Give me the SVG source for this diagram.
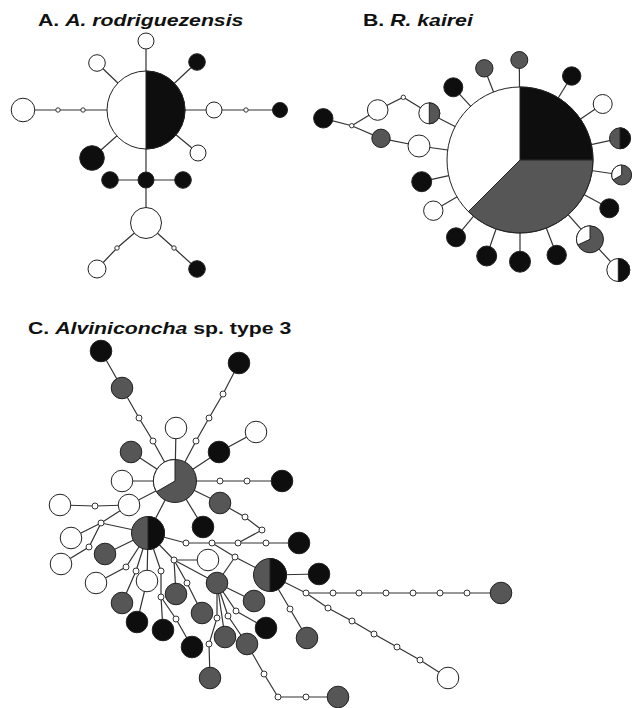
<svg xmlns="http://www.w3.org/2000/svg" width="632" height="708" viewBox="0 0 632 708">
<style>
.t{font-family:"Liberation Sans",Arial,sans-serif;font-size:17px;font-weight:bold;fill:#111}
.ln{stroke:#333;stroke-width:1.2;fill:none}
.w{fill:#fff;stroke:#222;stroke-width:1}
.b{fill:#0e0e0e;stroke:#222;stroke-width:1}
.g{fill:#565656;stroke:#222;stroke-width:1}
.s{fill:#fff;stroke:#333;stroke-width:1}
</style>
<rect width="632" height="708" fill="#fff"/>
<g id="titles">
<text class="t" transform="translate(38,26) scale(1.25,1)">A. <tspan font-style="italic">A. rodriguezensis</tspan></text>
<text class="t" transform="translate(363,26) scale(1.25,1)">B. <tspan font-style="italic">R. kairei</tspan></text>
<text class="t" transform="translate(28,334) scale(1.25,1)">C. <tspan font-style="italic">Alviniconcha</tspan> sp. type 3</text>
</g>
<g id="connectors">
<!-- A -->
<polyline class="ln" points="23,110 146,110 280,110"/>
<line class="ln" x1="146" y1="41" x2="146" y2="223"/>
<line class="ln" x1="97" y1="63" x2="146" y2="110"/>
<line class="ln" x1="197" y1="62" x2="146" y2="110"/>
<line class="ln" x1="92" y1="158" x2="146" y2="110"/>
<line class="ln" x1="198" y1="153" x2="146" y2="110"/>
<line class="ln" x1="110" y1="180" x2="183" y2="180"/>
<polyline class="ln" points="146,223 117,248 97,269"/>
<polyline class="ln" points="146,223 174,248 197,269"/>
<!-- B -->
<line class="ln" x1="519.3" y1="60" x2="520" y2="160"/>
<line class="ln" x1="484.3" y1="68.3" x2="520" y2="160"/>
<line class="ln" x1="453.3" y1="87.3" x2="520" y2="160"/>
<line class="ln" x1="571.7" y1="76" x2="520" y2="160"/>
<line class="ln" x1="602.7" y1="104" x2="520" y2="160"/>
<line class="ln" x1="620" y1="138.3" x2="520" y2="160"/>
<line class="ln" x1="621.7" y1="175" x2="520" y2="160"/>
<line class="ln" x1="609.3" y1="208.3" x2="520" y2="160"/>
<polyline class="ln" points="618.3,270 590,239.3 520,160"/>
<line class="ln" x1="556.7" y1="255" x2="520" y2="160"/>
<line class="ln" x1="520" y1="261.7" x2="520" y2="160"/>
<line class="ln" x1="486.7" y1="256" x2="520" y2="160"/>
<line class="ln" x1="456" y1="237.3" x2="520" y2="160"/>
<line class="ln" x1="433.3" y1="210.7" x2="520" y2="160"/>
<line class="ln" x1="421.7" y1="181.7" x2="520" y2="160"/>
<polyline class="ln" points="323.3,118.3 351.7,125.7 381,138.3 419,146 520,160"/>
<polyline class="ln" points="351.7,125.7 377.7,110 403.3,97.3 429.3,113.3 520,160"/>
<!-- C -->
<polyline class="ln" points="175,481 153,441 139,418 122,388 101,351"/>
<polyline class="ln" points="175,481 196,441 209,418 223,394 239,363"/>
<line class="ln" x1="175" y1="481" x2="176" y2="428"/>
<polyline class="ln" points="175,481 219,452 256,432"/>
<line class="ln" x1="175" y1="481" x2="131" y2="452"/>
<line class="ln" x1="175" y1="481" x2="122" y2="481"/>
<polyline class="ln" points="175,481 220,481 247,481 282,481"/>
<polyline class="ln" points="175,481 220,503 245,517 262,530 238,543"/>
<polyline class="ln" points="175,481 129,505 95,506 60,505"/>
<line class="ln" x1="175" y1="481" x2="148" y2="533"/>
<line class="ln" x1="175" y1="481" x2="203" y2="527"/>
<polyline class="ln" points="129,505 101,523 71,538"/>
<line class="ln" x1="148" y1="533" x2="101" y2="523"/>
<polyline class="ln" points="101,523 89,547 61,564"/>
<line class="ln" x1="148" y1="533" x2="105" y2="554"/>
<polyline class="ln" points="148,533 186,543 212,543 238,543 266,543 299,543"/>
<polyline class="ln" points="212,543 235,557 270,575"/>
<line class="ln" x1="235" y1="557" x2="217" y2="583"/>
<polyline class="ln" points="148,533 126,567 96,583"/>
<polyline class="ln" points="148,533 136,571 122,603"/>
<polyline class="ln" points="148,533 147,581 137,622"/>
<polyline class="ln" points="148,533 161,571 161,597 163,630"/>
<polyline class="ln" points="161,597 176,619 192,647"/>
<polyline class="ln" points="148,533 174,560 208,560"/>
<line class="ln" x1="174" y1="560" x2="176" y2="594"/>
<polyline class="ln" points="174,560 187,583 202,613"/>
<line class="ln" x1="174" y1="560" x2="217" y2="583"/>
<line class="ln" x1="217" y1="583" x2="254" y2="601"/>
<polyline class="ln" points="217,583 217,618 209,644 210,678"/>
<line class="ln" x1="217" y1="583" x2="225" y2="637"/>
<polyline class="ln" points="217,583 228,616 247,644 264,674 278,697 306,697 338,697"/>
<polyline class="ln" points="217,583 236,611 266,628"/>
<line class="ln" x1="270" y1="575" x2="319" y2="574"/>
<polyline class="ln" points="270,575 306,593 501,593"/>
<polyline class="ln" points="306,593 328,608 352,621 374,634 397,647 420,660 448,678"/>
<polyline class="ln" points="270,575 290,609 307,638"/>
</g>
<!-- A nodes -->
<g id="a-main"><circle class="w" cx="146" cy="110" r="39"/><path class="b" d="M146,71 A39,39 0 0 1 146,149 Z"/></g>
<g id="a-top"><circle class="w" cx="146" cy="41" r="8"/></g>
<g id="a-ul"><circle class="w" cx="97" cy="63" r="8.3"/></g>
<g id="a-ur"><circle class="b" cx="197" cy="62" r="8.3"/></g>
<g id="a-left"><circle class="w" cx="23" cy="110" r="11.8"/></g>
<g id="a-s1"><circle class="s" cx="58" cy="110" r="2.2"/></g>
<g id="a-s2"><circle class="s" cx="83" cy="110" r="2.2"/></g>
<g id="a-right"><circle class="w" cx="214" cy="110" r="8"/></g>
<g id="a-s3"><circle class="s" cx="246" cy="110" r="2.2"/></g>
<g id="a-far"><circle class="b" cx="280" cy="110" r="7.5"/></g>
<g id="a-ll"><circle class="b" cx="92" cy="158" r="12.3"/></g>
<g id="a-lr"><circle class="w" cx="198" cy="153" r="8"/></g>
<g id="a-mid"><circle class="b" cx="146" cy="180" r="8"/></g>
<g id="a-midl"><circle class="b" cx="110" cy="180" r="8.3"/></g>
<g id="a-midr"><circle class="b" cx="183" cy="180" r="8.3"/></g>
<g id="a-low"><circle class="w" cx="146" cy="223" r="15.5"/></g>
<g id="a-s4"><circle class="s" cx="117" cy="248" r="2.2"/></g>
<g id="a-s5"><circle class="s" cx="174" cy="248" r="2.2"/></g>
<g id="a-bl"><circle class="w" cx="97" cy="269" r="9"/></g>
<g id="a-br"><circle class="b" cx="197" cy="269" r="8.3"/></g>
<!-- B nodes -->
<g id="b-main"><circle class="w" cx="520" cy="160" r="73" stroke-width="1.2"/><path class="b" d="M520,160 L520,87 A73,73 0 0 1 593,160 Z"/><path class="g" d="M520,160 L593,160 A73,73 0 0 1 468.4,211.6 Z"/></g>
<g id="b-1"><circle class="g" cx="519.3" cy="60" r="8.5"/></g>
<g id="b-2"><circle class="g" cx="484.3" cy="68.3" r="8.7"/></g>
<g id="b-3"><circle class="b" cx="453.3" cy="87.3" r="9.5"/></g>
<g id="b-4"><circle class="b" cx="571.7" cy="76" r="9.2"/></g>
<g id="b-5"><circle class="w" cx="602.7" cy="104" r="9.5"/></g>
<g id="b-6"><circle class="g" cx="620" cy="138.3" r="10.5"/><path class="b" d="M620,127.8 A10.5,10.5 0 0 1 620,148.8 Z"/></g>
<g id="b-7"><circle class="g" cx="621.7" cy="175" r="10"/><path class="w" d="M621.7,175 L613.04,180 A10,10 0 0 1 621.7,165 Z"/></g>
<g id="b-8"><circle class="b" cx="609.3" cy="208.3" r="9.5"/></g>
<g id="b-9"><circle class="g" cx="590" cy="239.3" r="13.5"/><path class="w" d="M590,239.3 L577.76,245 A13.5,13.5 0 0 1 590,225.8 Z"/></g>
<g id="b-10"><circle class="w" cx="618.3" cy="270" r="11.5"/><path class="b" d="M618.3,258.5 A11.5,11.5 0 0 1 618.3,281.5 Z"/></g>
<g id="b-11"><circle class="b" cx="556.7" cy="255" r="9.7"/></g>
<g id="b-12"><circle class="b" cx="520" cy="261.7" r="10.5"/></g>
<g id="b-13"><circle class="b" cx="486.7" cy="256" r="10"/></g>
<g id="b-14"><circle class="b" cx="456" cy="237.3" r="9.5"/></g>
<g id="b-15"><circle class="w" cx="433.3" cy="210.7" r="9.7"/></g>
<g id="b-16"><circle class="b" cx="421.7" cy="181.7" r="10"/></g>
<g id="b-17"><circle class="w" cx="419" cy="146" r="11"/></g>
<g id="b-18"><circle class="g" cx="381" cy="138.3" r="9.2"/></g>
<g id="b-19"><circle class="s" cx="351.7" cy="125.7" r="2.2"/></g>
<g id="b-20"><circle class="b" cx="323.3" cy="118.3" r="9.7"/></g>
<g id="b-21"><circle class="w" cx="377.7" cy="110" r="10.3"/></g>
<g id="b-22"><circle class="s" cx="403.3" cy="97.3" r="2.2"/></g>
<g id="b-23"><circle class="w" cx="429.3" cy="113.3" r="10.5"/><path class="g" d="M429.3,102.8 A10.5,10.5 0 0 1 429.3,123.8 Z"/></g>
<!-- C nodes -->
<g id="c-m1"><circle class="g" cx="175" cy="481" r="21.5"/><path class="w" d="M175,481 L156.38,491.75 A21.5,21.5 0 0 1 175,459.5 Z"/></g>
<g id="c-m2"><circle class="g" cx="148" cy="533" r="16.5"/><path class="b" d="M148,516.5 A16.5,16.5 0 0 1 148,549.5 Z"/></g>
<g id="c-m3"><circle class="g" cx="270" cy="575" r="16.5"/><path class="b" d="M270,558.5 A16.5,16.5 0 0 1 270,591.5 Z"/></g>
<g id="c-1"><circle class="b" cx="101" cy="351" r="10.8"/></g>
<g id="c-2"><circle class="g" cx="122" cy="388" r="10.8"/></g>
<g id="c-3"><circle class="b" cx="239" cy="363" r="10.8"/></g>
<g id="c-4"><circle class="w" cx="176" cy="428" r="10.8"/></g>
<g id="c-5"><circle class="w" cx="256" cy="432" r="10.8"/></g>
<g id="c-6"><circle class="b" cx="219" cy="452" r="10.8"/></g>
<g id="c-7"><circle class="g" cx="131" cy="452" r="10.8"/></g>
<g id="c-8"><circle class="w" cx="122" cy="481" r="10.8"/></g>
<g id="c-9"><circle class="b" cx="282" cy="481" r="10.8"/></g>
<g id="c-10"><circle class="w" cx="129" cy="505" r="10.8"/></g>
<g id="c-11"><circle class="w" cx="60" cy="505" r="10.8"/></g>
<g id="c-12"><circle class="g" cx="220" cy="503" r="10.8"/></g>
<g id="c-13"><circle class="b" cx="203" cy="527" r="10.8"/></g>
<g id="c-14"><circle class="w" cx="71" cy="538" r="10.8"/></g>
<g id="c-15"><circle class="w" cx="61" cy="564" r="10.8"/></g>
<g id="c-16"><circle class="b" cx="299" cy="543" r="10.8"/></g>
<g id="c-17"><circle class="g" cx="105" cy="554" r="10.8"/></g>
<g id="c-18"><circle class="w" cx="208" cy="560" r="10.8"/></g>
<g id="c-19"><circle class="w" cx="96" cy="583" r="10.8"/></g>
<g id="c-20"><circle class="g" cx="122" cy="603" r="10.8"/></g>
<g id="c-21"><circle class="w" cx="147" cy="581" r="10.8"/></g>
<g id="c-22"><circle class="b" cx="137" cy="622" r="10.8"/></g>
<g id="c-23"><circle class="b" cx="163" cy="630" r="10.8"/></g>
<g id="c-24"><circle class="b" cx="192" cy="647" r="10.8"/></g>
<g id="c-25"><circle class="g" cx="176" cy="594" r="10.8"/></g>
<g id="c-26"><circle class="g" cx="202" cy="613" r="10.8"/></g>
<g id="c-27"><circle class="g" cx="217" cy="583" r="10.8"/></g>
<g id="c-28"><circle class="g" cx="254" cy="601" r="10.8"/></g>
<g id="c-29"><circle class="g" cx="210" cy="678" r="10.8"/></g>
<g id="c-30"><circle class="g" cx="225" cy="637" r="10.8"/></g>
<g id="c-31"><circle class="g" cx="247" cy="644" r="10.8"/></g>
<g id="c-32"><circle class="g" cx="338" cy="697" r="10.8"/></g>
<g id="c-33"><circle class="b" cx="266" cy="628" r="10.8"/></g>
<g id="c-34"><circle class="b" cx="319" cy="574" r="10.8"/></g>
<g id="c-35"><circle class="g" cx="501" cy="593" r="10.8"/></g>
<g id="c-36"><circle class="w" cx="448" cy="678" r="10.8"/></g>
<g id="c-37"><circle class="g" cx="307" cy="638" r="10.8"/></g>
<g id="c-small">
<circle class="s" cx="139" cy="418" r="3"/><circle class="s" cx="153" cy="441" r="3"/>
<circle class="s" cx="223" cy="394" r="3"/><circle class="s" cx="209" cy="418" r="3"/><circle class="s" cx="196" cy="441" r="3"/>
<circle class="s" cx="220" cy="481" r="3"/><circle class="s" cx="247" cy="481" r="3"/>
<circle class="s" cx="95" cy="506" r="3"/>
<circle class="s" cx="245" cy="517" r="3"/><circle class="s" cx="262" cy="530" r="3"/>
<circle class="s" cx="101" cy="523" r="3"/><circle class="s" cx="89" cy="547" r="3"/>
<circle class="s" cx="186" cy="543" r="3"/><circle class="s" cx="212" cy="543" r="3"/><circle class="s" cx="238" cy="543" r="3"/><circle class="s" cx="266" cy="543" r="3"/>
<circle class="s" cx="174" cy="560" r="3"/><circle class="s" cx="235" cy="557" r="3"/>
<circle class="s" cx="126" cy="567" r="3"/><circle class="s" cx="136" cy="571" r="3"/>
<circle class="s" cx="161" cy="571" r="3"/><circle class="s" cx="161" cy="597" r="3"/><circle class="s" cx="176" cy="619" r="3"/>
<circle class="s" cx="187" cy="583" r="3"/>
<circle class="s" cx="217" cy="618" r="3"/><circle class="s" cx="209" cy="644" r="3"/>
<circle class="s" cx="228" cy="616" r="3"/><circle class="s" cx="236" cy="611" r="3"/>
<circle class="s" cx="264" cy="674" r="3"/><circle class="s" cx="278" cy="697" r="3"/><circle class="s" cx="306" cy="697" r="3"/>
<circle class="s" cx="306" cy="593" r="3"/><circle class="s" cx="333" cy="593" r="3"/><circle class="s" cx="359" cy="593" r="3"/><circle class="s" cx="386" cy="593" r="3"/><circle class="s" cx="413" cy="593" r="3"/><circle class="s" cx="440" cy="593" r="3"/><circle class="s" cx="467" cy="593" r="3"/>
<circle class="s" cx="328" cy="608" r="3"/><circle class="s" cx="352" cy="621" r="3"/><circle class="s" cx="374" cy="634" r="3"/><circle class="s" cx="397" cy="647" r="3"/><circle class="s" cx="420" cy="660" r="3"/>
<circle class="s" cx="290" cy="609" r="3"/>
</g>
</svg>
